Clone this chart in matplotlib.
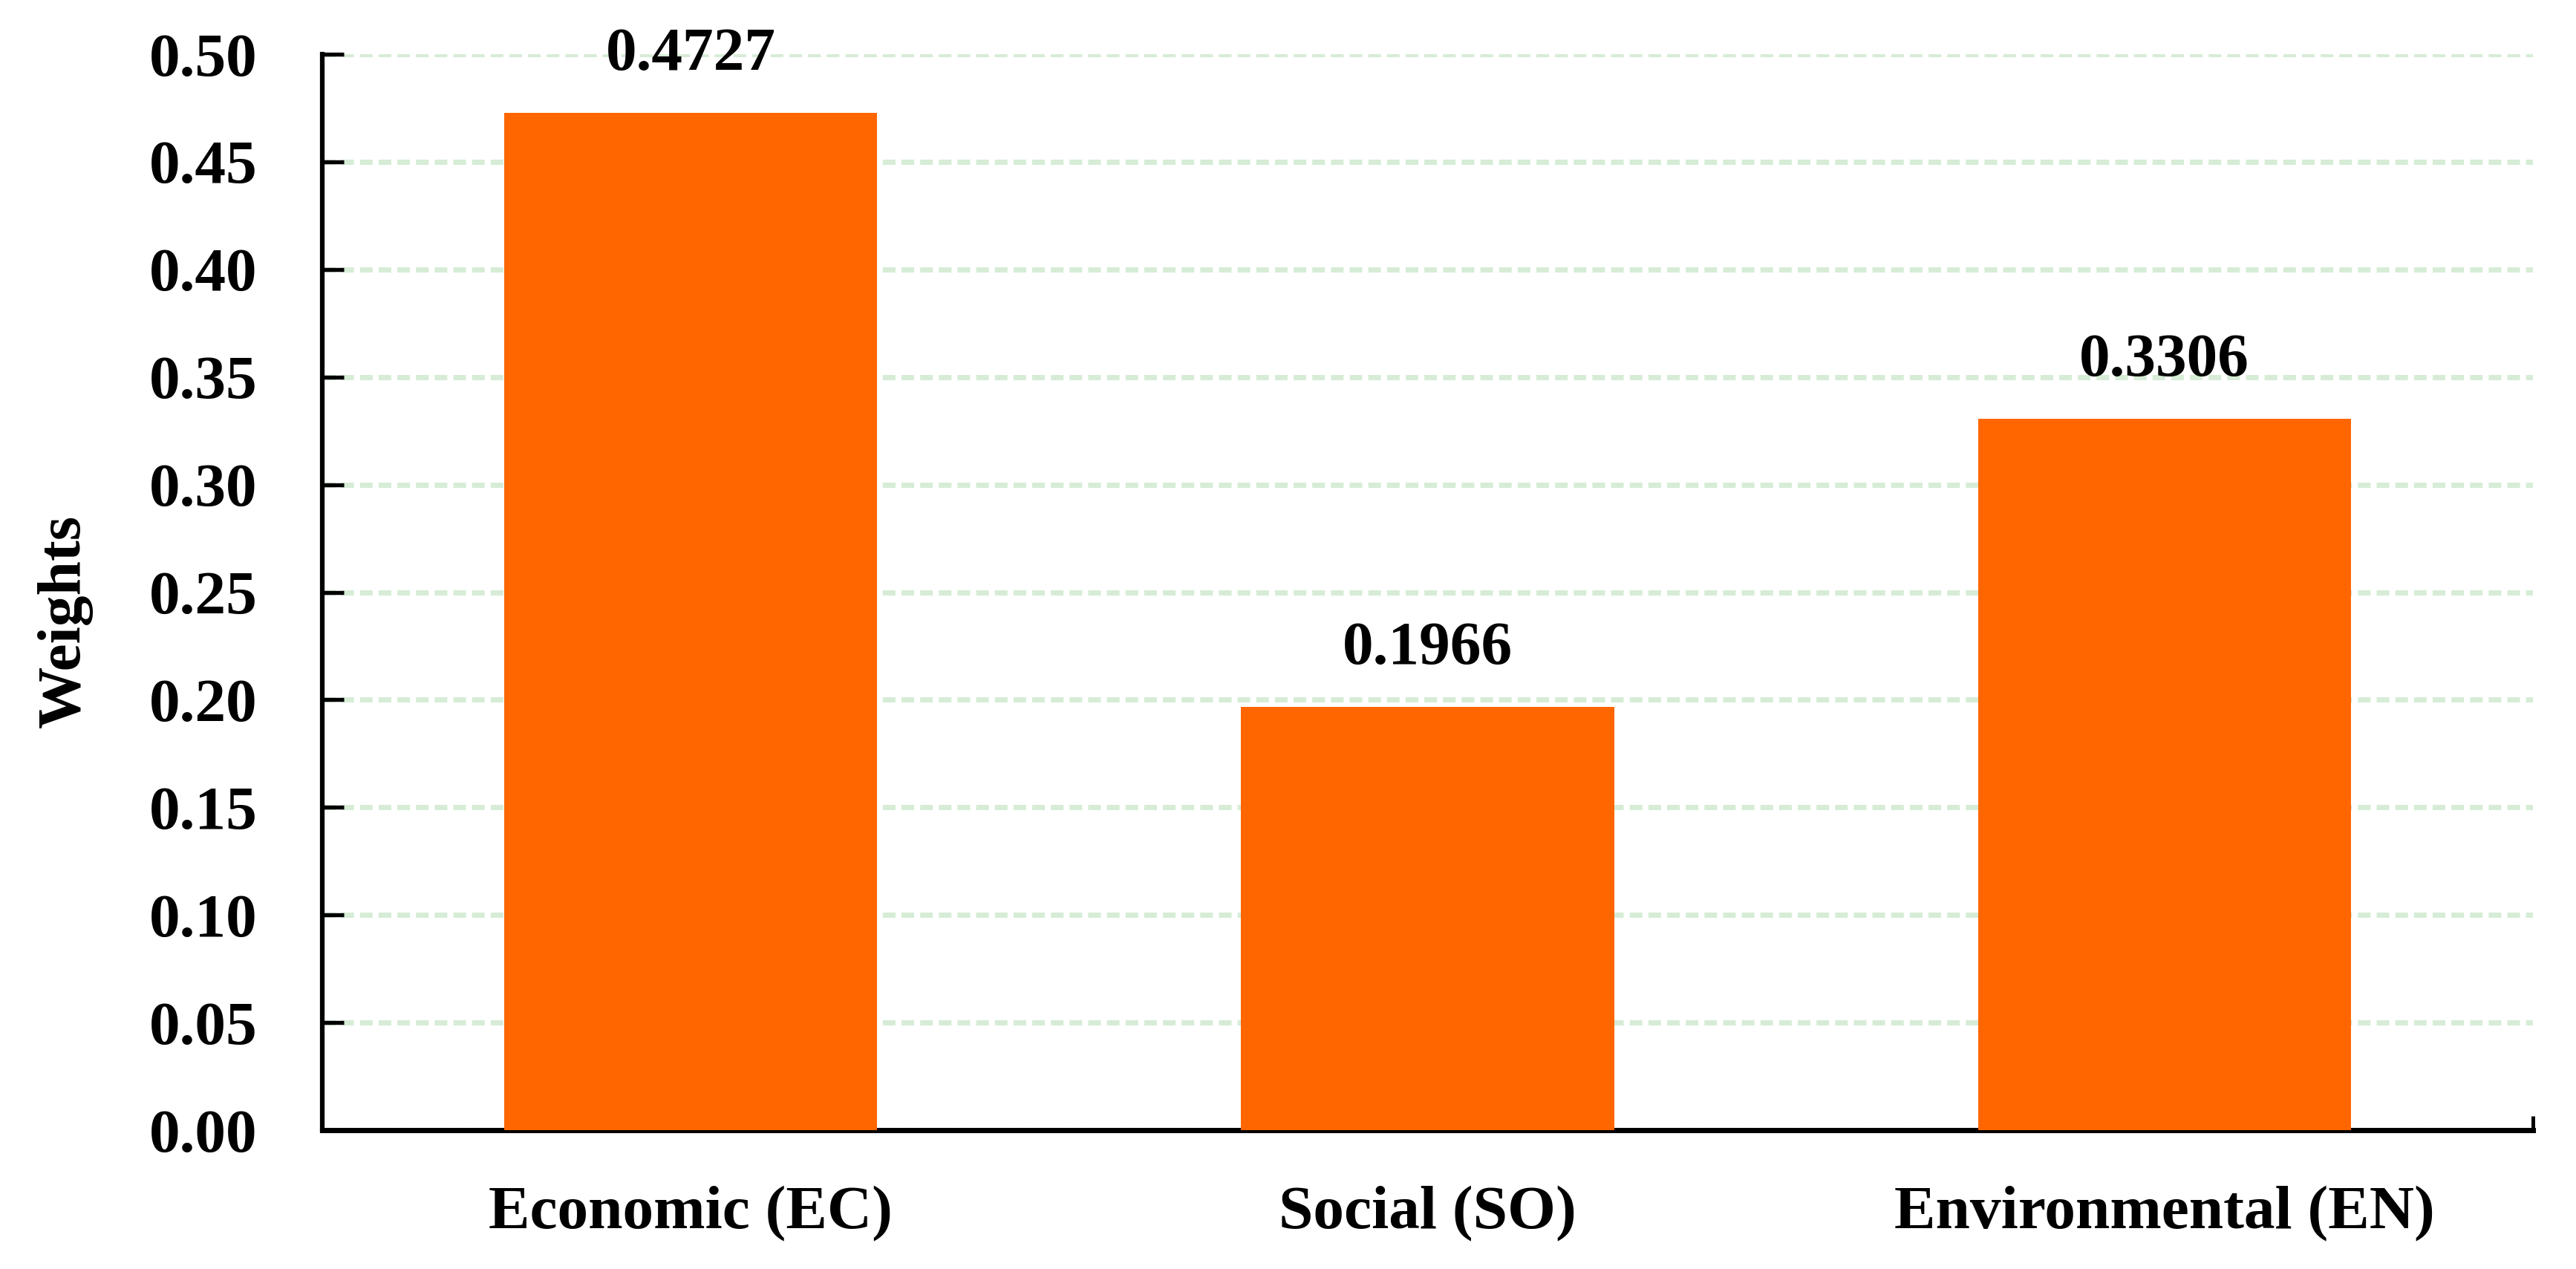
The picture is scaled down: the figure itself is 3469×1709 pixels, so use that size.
import matplotlib
matplotlib.use("Agg")
import matplotlib.pyplot as plt

categories = ["Economic (EC)", "Social (SO)", "Environmental (EN)"]
weights = [0.4727, 0.1966, 0.3306]
value_labels = ["0.4727", "0.1966", "0.3306"]
yticks = [0.00, 0.05, 0.10, 0.15, 0.20, 0.25, 0.30, 0.35, 0.40, 0.45, 0.50]

plt.rcParams['font.family'] = ['Liberation Serif', 'DejaVu Serif']
plt.rcParams['font.weight'] = 'bold'

fig = plt.figure(figsize=(3469/300, 1709/300), dpi=300)
ax = fig.add_axes([434/3469, 1 - 1522/1709, (3411-434)/3469, (1522-73)/1709])

x = list(range(len(categories)))
ax.bar(x, weights, width=0.506, color='#FF6600', zorder=3)

for xi, v, lab in zip(x, weights, value_labels):
    ax.annotate(lab, (xi, v), xytext=(0, 14), textcoords='offset points',
                ha='center', va='baseline', fontsize=20, fontweight='bold')

ax.set_xlim(-0.5, 2.5)
ax.set_ylim(0, 0.5)
ax.set_yticks(yticks)
ax.set_yticklabels([f"{t:.2f}" for t in yticks])
ax.set_xticks(x)
ax.set_xticklabels(categories)
ax.set_xticks([-0.5, 2.5], minor=True)

ax.yaxis.grid(True, color='#D6ECD6', linewidth=1.7, linestyle=(0, (2.4, 1.15)), zorder=0)
ax.set_axisbelow(True)

for side in ['top', 'right']:
    ax.spines[side].set_visible(False)
ax.spines['left'].set_linewidth(1.5)
ax.spines['bottom'].set_linewidth(1.7)

ax.tick_params(axis='y', direction='in', length=7, width=1.3, pad=21, labelsize=20)
ax.tick_params(axis='x', which='both', direction='in', length=4.6, width=1.2, pad=18, labelsize=20)

for lab in ax.get_xticklabels() + ax.get_yticklabels():
    lab.set_fontweight('bold')

ax.set_ylabel("Weights", fontsize=20, fontweight='bold')
ax.yaxis.set_label_coords(-0.104, 0.473)

fig.savefig("out.png", dpi=300)
